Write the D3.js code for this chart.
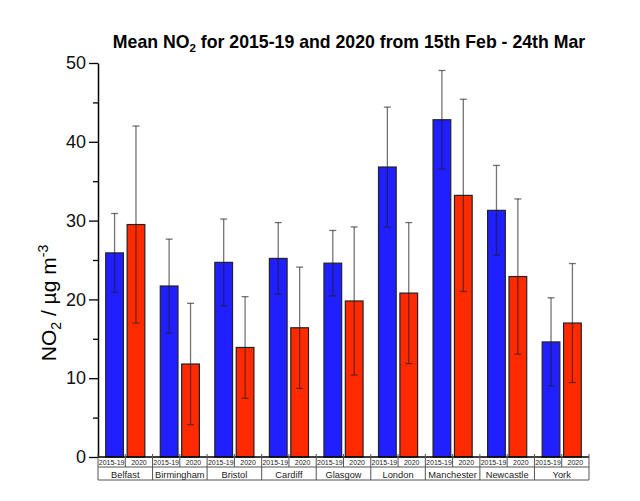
<!DOCTYPE html>
<html><head><meta charset="utf-8">
<script src="https://cdn.jsdelivr.net/npm/d3@7"></script>
<style>body{margin:0;background:#fff}svg{display:block}text{font-family:Arial,"Liberation Sans",sans-serif}</style>
</head><body>
<svg id="c" width="640" height="501"></svg>
<script>
const cities = ["Belfast","Birmingham","Bristol","Cardiff","Glasgow","London","Manchester","Newcastle","York"];
const series = ["2015-19","2020"];
const mean2015 = [25.9,21.7,24.7,25.2,24.6,36.8,42.8,31.3,14.6];
const sd2015   = [5.0,5.95,5.5,4.55,4.15,7.6,6.25,5.7,5.6];
const mean2020 = [29.5,11.8,13.9,16.4,19.8,20.8,33.2,22.9,17.0];
const sd2020   = [12.5,7.7,6.45,7.7,9.4,8.95,12.2,9.85,7.55];
const yTicks = [0,10,20,30,40,50];
const yMinor = [5,15,25,35,45];
const colors = {"2015-19":"#1f1fff","2020":"#ff2a00"};

const svg = d3.select("#c");
const L=98, R=589, T=63, B=457;
const x = d3.scaleBand().domain(cities).range([L,R]).padding(0);
const xs = d3.scaleBand().domain(series).range([0,x.bandwidth()]).paddingInner(0.173).paddingOuter(0.361);
const xh = d3.scaleBand().domain(series).range([0,x.bandwidth()]).padding(0);
const y = d3.scaleLinear().domain([0,50]).range([B,T]);

const data = [];
cities.forEach((c,i)=>{
  data.push({c, s:"2015-19", v:mean2015[i], e:sd2015[i]});
  data.push({c, s:"2020", v:mean2020[i], e:sd2020[i]});
});

// bars
svg.append("g").selectAll("rect").data(data).join("rect")
  .attr("x", d=>x(d.c)+xs(d.s)).attr("width", xs.bandwidth())
  .attr("y", d=>y(d.v)).attr("height", d=>y(0)-y(d.v))
  .attr("fill", d=>colors[d.s]).attr("stroke","#222").attr("stroke-width",1.2);

// error bars
const eg = svg.append("g").attr("stroke","rgba(30,30,30,0.62)").attr("stroke-width",1.3);
data.forEach(d=>{
  const cx = x(d.c)+xs(d.s)+xs.bandwidth()/2;
  eg.append("line").attr("x1",cx).attr("x2",cx).attr("y1",y(d.v+d.e)).attr("y2",y(d.v-d.e));
  [d.v+d.e, d.v-d.e].forEach(v=>{
    eg.append("line").attr("x1",cx-3.5).attr("x2",cx+3.5).attr("y1",y(v)).attr("y2",y(v));
  });
});

// y axis
const ya = svg.append("g").attr("transform",`translate(${L},0)`)
  .call(d3.axisLeft(y).tickValues(yTicks).tickSize(9).tickPadding(3).tickSizeOuter(0));
ya.select(".domain").attr("stroke-width",1.5);
ya.selectAll(".tick line").attr("stroke-width",1.3);
ya.selectAll("text").attr("font-size",18).attr("fill","#111");
svg.append("g").attr("transform",`translate(${L},0)`)
  .call(d3.axisLeft(y).tickValues(yMinor).tickSize(5).tickFormat(""))
  .call(g=>g.select(".domain").remove())
  .selectAll("line").attr("stroke-width",1.3);

// x axis line
svg.append("line").attr("x1",L).attr("x2",R).attr("y1",B).attr("y2",B).attr("stroke","#000").attr("stroke-width",1.5);

// table
const r1 = 467, r2 = 480;
const tg = svg.append("g").attr("stroke","#555").attr("stroke-width",1).attr("fill","none");
tg.append("line").attr("x1",L).attr("x2",R).attr("y1",r1).attr("y2",r1);
tg.append("line").attr("x1",L).attr("x2",R).attr("y1",r2).attr("y2",r2);
cities.forEach(c=>{
  series.forEach(s=>{
    const xx = x(c)+xh(s);
    tg.append("line").attr("x1",xx).attr("x2",xx).attr("y1",B-3).attr("y2",r1);
  });
  tg.append("line").attr("x1",x(c)).attr("x2",x(c)).attr("y1",r1).attr("y2",r2);
});
tg.append("line").attr("x1",R).attr("x2",R).attr("y1",B-3).attr("y2",r2);

const txt = svg.append("g").attr("text-anchor","middle").attr("fill","#222");
cities.forEach(c=>{
  series.forEach(s=>{
    txt.append("text").attr("x",x(c)+xh(s)+xh.bandwidth()/2).attr("y",465).attr("font-size",7).text(s);
  });
  txt.append("text").attr("x",x(c)+x.bandwidth()/2).attr("y",477.5).attr("font-size",9.3).text(c);
});

// y label
const yl = svg.append("text").attr("transform","translate(56,303) rotate(-90)").attr("text-anchor","middle").attr("font-size",21).attr("fill","#000");
yl.append("tspan").text("NO");
yl.append("tspan").attr("font-size",14).attr("dy",5).text("2");
yl.append("tspan").attr("dy",-5).text(" / µg m");
yl.append("tspan").attr("font-size",14).attr("dy",-8).text("-3");

// title
const t = svg.append("text").attr("x",349).attr("y",48).attr("text-anchor","middle").attr("font-size",17.7).attr("font-weight","bold").attr("fill","#000");
t.append("tspan").text("Mean NO");
t.append("tspan").attr("font-size",11.5).attr("dy",4).text("2");
t.append("tspan").attr("dy",-4).text(" for 2015-19 and 2020 from 15th Feb - 24th Mar");
</script>
</body></html>
